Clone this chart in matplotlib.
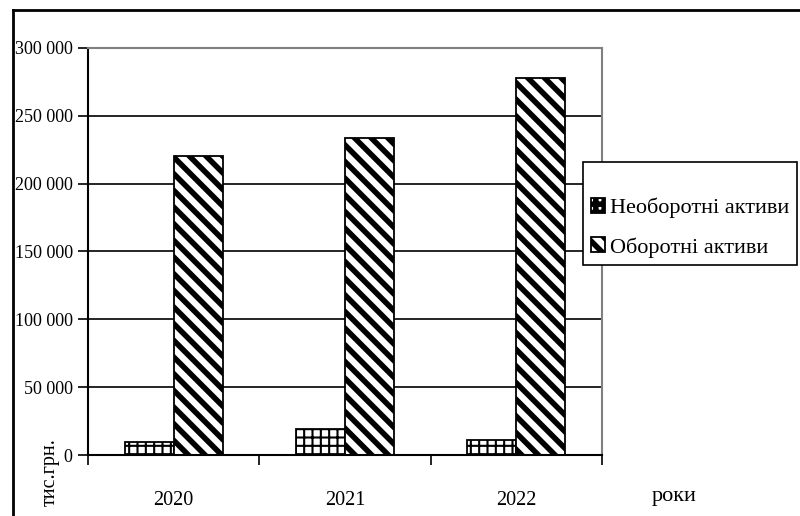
import numpy as np
import matplotlib.pyplot as plt
from matplotlib.ticker import FuncFormatter, MultipleLocator
from matplotlib.lines import Line2D

plt.rcParams['font.family'] = ['Liberation Serif', 'DejaVu Serif']
plt.rcParams['hatch.linewidth'] = 4.0

years = ['2020', '2021', '2022']
non_current = [9800, 18800, 10800]      # Необоротні активи
current = [220500, 233500, 278000]      # Оборотні активи

fig = plt.figure(figsize=(8, 5.16), dpi=100)
ax = fig.add_axes([0.11, 0.1182, 0.6425, 0.789])

x = np.arange(len(years)) + 0.5
w = 0.286
b1 = ax.bar(x - w / 2, non_current, w, facecolor='white', edgecolor='black',
            hatch='++', linewidth=1.3, label='Необоротні активи')
b2 = ax.bar(x + w / 2, current, w, facecolor='white', edgecolor='black',
            hatch='\\\\', linewidth=1.3, label='Оборотні активи')
for p in b1:
    p.set_hatch_linewidth(1.5)

ax.set_xlim(0, 3)
ax.set_ylim(0, 300000)
ax.yaxis.set_major_locator(MultipleLocator(50000))
ax.yaxis.set_major_formatter(FuncFormatter(lambda v, _: f'{int(v):,}'.replace(',', ' ')))
ax.grid(axis='y', color='black', linewidth=1.2)
ax.set_axisbelow(True)

ax.set_xticks([0, 1, 2, 3])
ax.set_xticklabels([])
ax.set_xticks(x, minor=True)
ax.set_xticklabels(years, minor=True)
ax.tick_params(axis='x', which='major', direction='out', length=7, width=1.2)
ax.tick_params(axis='x', which='minor', length=0, pad=26, labelsize=14.5)
ax.tick_params(axis='y', direction='out', length=7, width=1.2, pad=4, labelsize=13)

for s in ['top', 'right']:
    ax.spines[s].set_color('#808080')
    ax.spines[s].set_linewidth(1.5)
for s in ['left', 'bottom']:
    ax.spines[s].set_linewidth(1.5)

fig.text(0.063, 0.085, 'тис.грн.', rotation=90, ha='center', va='center', fontsize=14.5)
fig.text(0.843, 0.038, 'роки', ha='center', va='center', fontsize=16)

leg = fig.legend(loc='upper left', bbox_to_anchor=(0.729, 0.686), fontsize=16,
                 title=' ', title_fontsize=7,
                 frameon=True, fancybox=False, edgecolor='black', framealpha=1,
                 handlelength=0.65, handleheight=0.65, handletextpad=0.2,
                 borderpad=0.35, labelspacing=0.85, borderaxespad=0)
leg.get_frame().set_linewidth(1.2)

# outer chart frame
fig.add_artist(Line2D([13 / 800, 1], [1 - 10 / 516] * 2, color='black', lw=2,
                      transform=fig.transFigure))
fig.add_artist(Line2D([13 / 800] * 2, [0, 1 - 10 / 516], color='black', lw=2,
                      transform=fig.transFigure))

fig.savefig('out.png', dpi=100)
